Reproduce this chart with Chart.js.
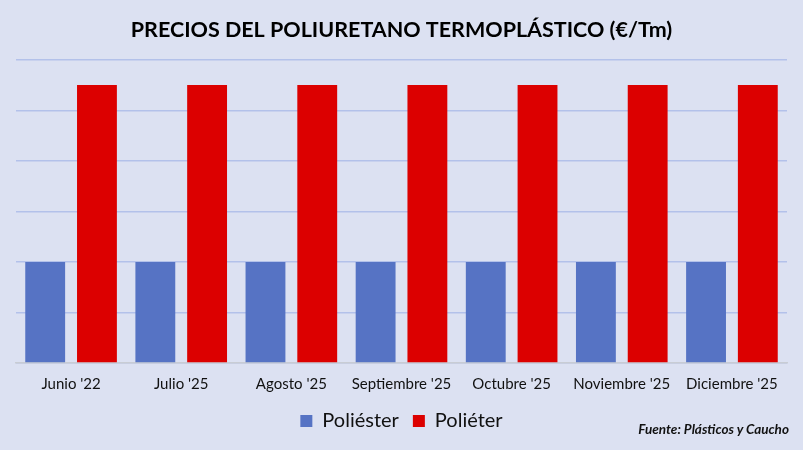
<!DOCTYPE html>
<html>
<head>
<meta charset="utf-8">
<script src="https://cdn.jsdelivr.net/npm/chart.js@4/dist/chart.umd.min.js"></script>
<style>
  html, body { margin: 0; padding: 0; background: #dce1f2; }
  #wrap { position: relative; width: 803px; height: 450px; }
  #fuente { position: absolute; right: 14px; top: 421px; font: italic bold 13.5px Lato, sans-serif; color: #111; }
</style>
</head>
<body>
<div id="wrap">
  <canvas id="grafico" width="803" height="450"></canvas>
  <div id="fuente">Fuente: Plásticos y Caucho</div>
</div>
<script>
// datos
const meses = ["Junio '22", "Julio '25", "Agosto '25", "Septiembre '25", "Octubre '25", "Noviembre '25", "Diciembre '25"]
const poliester = [2000, 2000, 2000, 2000, 2000, 2000, 2000]
const polieter = [5500, 5500, 5500, 5500, 5500, 5500, 5500]

const ctx = document.getElementById('grafico')

new Chart(ctx, {
  type: 'bar',
  data: {
    labels: meses,
    datasets: [{
      label: 'Poliéster',
      data: poliester,
      backgroundColor: '#5673c4'
    }, {
      label: 'Poliéter',
      data: polieter,
      backgroundColor: '#dc0000'
    }]
  },
  options: {
    responsive: false,
    animation: false,
    categoryPercentage: 0.94,
    barPercentage: 0.77,
    layout: { padding: { left: 16, right: 16, top: 13, bottom: 9 } },
    plugins: {
      title: {
        display: true,
        text: 'PRECIOS DEL POLIURETANO TERMOPLÁSTICO (€/Tm)',
        color: '#000',
        font: { family: 'Lato', size: 21.5, weight: 'bold' },
        padding: { top: 4, bottom: 17 }
      },
      legend: {
        position: 'bottom',
        labels: {
          color: '#111',
          font: { family: 'Lato', size: 20 },
          boxWidth: 12,
          boxHeight: 12,
          padding: 14
        }
      },
      tooltip: { enabled: false }
    },
    scales: {
      x: {
        grid: { display: false },
        border: { color: '#c8ccd4', width: 1.5 },
        ticks: { color: '#111', font: { family: 'Lato', size: 15 }, padding: 4 }
      },
      y: {
        min: 0,
        max: 6000,
        ticks: { display: false, stepSize: 1000 },
        border: { display: false },
        grid: { color: '#b3c1ea', lineWidth: 1.5, drawTicks: false }
      }
    }
  }
})
</script>
</body>
</html>
